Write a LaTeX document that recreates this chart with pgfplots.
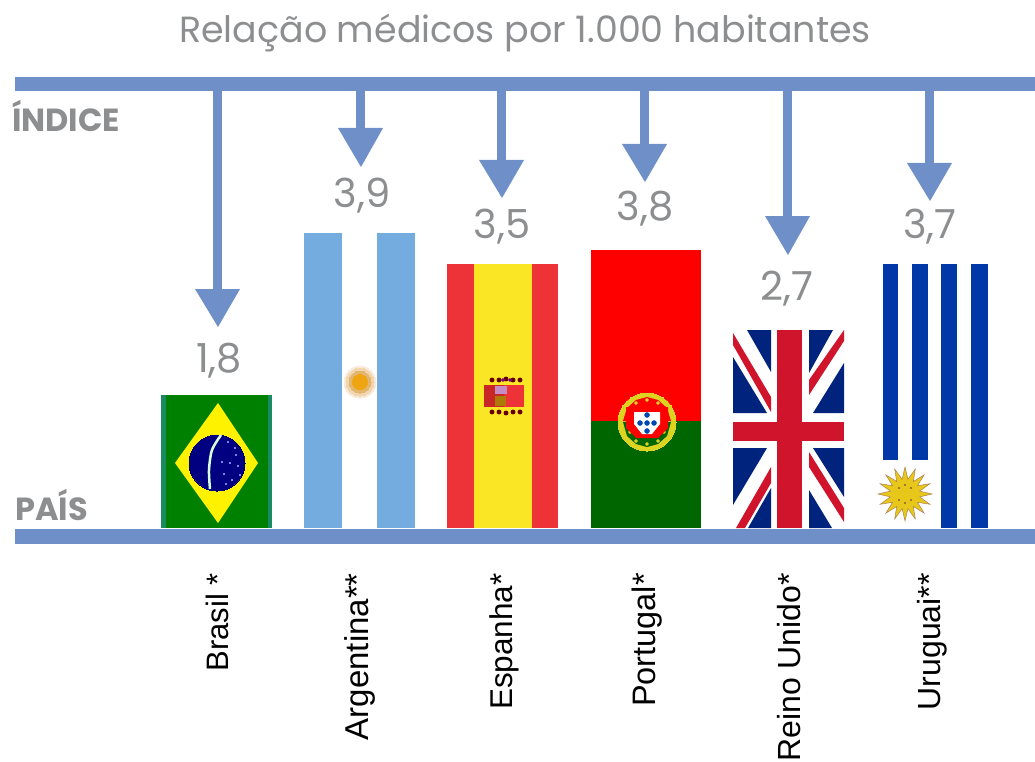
\documentclass[border=0pt]{standalone}
\usepackage{pgfplots}
\pgfplotsset{compat=1.18}
\usepackage{fontspec}
\setmainfont{Liberation Sans}
\newfontfamily\gth{Poppins}
\definecolor{rule}{HTML}{6F8FC9}
\definecolor{txt}{HTML}{8C8E90}
\definecolor{br}{HTML}{008000}
\definecolor{brt}{HTML}{1A8A62}
\definecolor{arb}{HTML}{74ACDF}
\definecolor{esr}{HTML}{EE3338}
\definecolor{esy}{HTML}{FAE625}
\definecolor{ptg}{HTML}{006600}
\definecolor{ukn}{HTML}{00247D}
\definecolor{ukr}{HTML}{CF142B}
\definecolor{uyb}{HTML}{0038A8}
\definecolor{suna}{HTML}{F8EBDB}
\definecolor{sunb}{HTML}{F0D5AE}
\definecolor{sunc}{HTML}{E3B670}
\definecolor{sund}{HTML}{EFA512}
\newcommand\rect[5]{\addplot[fill=#1,draw=none] coordinates {(#2,#3)(#4,#3)(#4,#5)(#2,#5)} -- cycle;}
\newcommand\poly[2]{\addplot[fill=#1,draw=none] coordinates {#2} -- cycle;}
\newcommand\disc[4]{\addplot[only marks,color=#1,mark=*,mark size=#4pt,mark options={fill=#1,draw=#1,line width=0pt}] coordinates {(#2,#3)};}
% arrow: x centre, head top, tip
\newcommand\arw[3]{%
  \rect{rule}{\the\numexpr#1-5\relax}{91}{\the\numexpr#1+4\relax}{#2}
  \poly{rule}{(\the\numexpr#1-23\relax,#2)(\the\numexpr#1+22\relax,#2)(#1,#3)}}
\newcommand\val[3]{\node[text=txt,font=\gth\fontsize{40}{40}\selectfont,anchor=center] at (axis cs:#1,#2) {#3};}
\newcommand\cat[4]{\node[text=black,font=\fontsize{#4}{32}\selectfont,rotate=90,anchor=base east,inner sep=0pt] at (axis cs:#1,#2) {#3};}
\begin{document}
\begin{tikzpicture}
\useasboundingbox (0,0) rectangle (1035pt,762pt);
\begin{axis}[at={(0,0)},anchor=south west,scale only axis,width=1035pt,height=762pt,
  xmin=0,xmax=1035,ymin=0,ymax=762,y dir=reverse,hide axis,clip=false,clip mode=individual]
% Brasil
\rect{brt}{161}{395}{272}{528}
\rect{br}{166}{395}{268}{528}
\poly{yellow}{(218,403)(258,463)(218,523)(175,463)}
\disc{blue!50!black}{217}{463}{28}
\addplot[color=white!85!green,line width=2.5pt,smooth] coordinates {(221,435)(212,450)(209,470)(210,489)};
\addplot[only marks,color=white!60!blue,mark=*,mark size=0.9pt,mark options={fill=white!60!blue,draw=none}] coordinates {(228,442)(235,448)(222,462)(230,463)(238,466)(224,474)(232,480)(240,475)(226,484)(236,455)};
% Argentina
\rect{arb}{304}{233}{342}{528}
\rect{arb}{377}{233}{415}{528}
\disc{suna}{360}{382}{16}
\disc{sunb}{360}{382}{14}
\disc{sunc}{360}{382}{11}
\disc{sund}{360}{382}{7.5}
% Espanha
\rect{esr}{447}{264}{474}{528}
\rect{esr}{532}{264}{558}{528}
\rect{esy}{474}{264}{532}{528}
\rect{red!75!black!85!white}{484}{385}{524}{407}
\rect{esr}{504}{385}{524}{407}
\rect{violet!45!white}{495}{386}{507}{394}
\rect{olive!70!red}{495}{396}{506}{406}
\addplot[only marks,color=black!60!red,mark=*,mark size=2.2pt,mark options={fill=black!60!red,draw=none}] coordinates {(492,380)(499,380)(506,379)(513,380)(520,380)(492,412)(499,412)(506,413)(513,412)(520,412)};
\addplot[only marks,color=violet,mark=*,mark size=1.6pt,mark options={fill=violet,draw=none}] coordinates {(503,380)(510,380)};
% Portugal
\rect{red}{591}{250}{701}{421}
\rect{ptg}{591}{421}{701}{528}
\disc{yellow!85!black}{647}{422}{29}
\addplot[fill=red,draw=none] coordinates {(623,421)(671,421)(667,408)(658,400)(647,397)(636,400)(627,408)} -- cycle;
\addplot[fill=ptg,draw=none] coordinates {(623,422)(671,422)(667,436)(658,444)(647,447)(636,444)(627,436)} -- cycle;
\addplot[only marks,color=yellow!85!black,mark=*,mark size=1.6pt,mark options={fill=yellow!85!black,draw=none}] coordinates {(636,403)(647,400)(658,403)(630,411)(664,411)(630,432)(664,432)(636,441)(647,444)(658,441)};
\poly{red}{(626,407)(668,407)(668,428)(658,438)(636,438)(626,428)}
\poly{white}{(634,412)(660,412)(660,424)(652,434)(642,434)(634,424)}
\addplot[only marks,color=blue!60!cyan!70!black,mark=*,mark size=2.5pt,mark options={fill=blue!60!cyan!70!black,draw=none}] coordinates {(647,415)(640,423)(647,423)(654,423)(647,431)};
% Reino Unido
\rect{white}{733}{330}{844}{528}
\poly{ukn}{(747,330)(771,330)(771,372)}
\poly{ukn}{(733,357)(733,413)(767,413)}
\poly{ukn}{(809,330)(833,330)(809,373)}
\poly{ukn}{(844,363)(844,413)(813,413)}
\poly{ukn}{(733,448)(767,448)(733,505)}
\poly{ukn}{(771,488)(771,528)(748,528)}
\poly{ukn}{(809,490)(809,528)(832,528)}
\poly{ukn}{(813,448)(844,448)(844,497)}
\poly{ukr}{(733,333)(771,397)(771,412)(733,345)}
\poly{ukr}{(844,330)(844,341)(809,395)(809,380)}
\poly{ukr}{(771,467)(771,483)(745,528)(736,528)}
\poly{ukr}{(809,452)(809,467)(844,522)(844,508)}
\rect{ukr}{777}{330}{802}{528}
\rect{ukr}{733}{422}{844}{441}
% Uruguai
\rect{uyb}{883}{264}{898}{460}
\rect{uyb}{912}{264}{928}{460}
\rect{uyb}{941}{264}{957}{528}
\rect{uyb}{971}{264}{988}{528}
\addplot[fill=yellow!75!orange!90!black,draw=brown!70!gray,line width=0.5pt] coordinates {
(932,494)(919.7,496.9)(929.9,504.3)(917.5,502.3)(924.1,513.1)(913.3,506.5)(915.3,518.9)(907.9,508.7)(905,521)(902.1,508.7)(894.7,518.9)(896.7,506.5)(885.9,513.1)(892.5,502.3)(880.1,504.3)(890.3,496.9)(878,494)(890.3,491.1)(880.1,483.7)(892.5,485.7)(885.9,474.9)(896.7,481.5)(894.7,469.1)(902.1,479.3)(905,467)(907.9,479.3)(915.3,469.1)(913.3,481.5)(924.1,474.9)(917.5,485.7)(929.9,483.7)(919.7,491.1)} -- cycle;
\addplot[only marks,color=brown!80!black,mark=*,mark size=0.9pt,mark options={fill=brown!80!black,draw=none}] coordinates {(899,488)(911,488)(899,500)(911,500)(905,503)(905,485)};
% rules
\rect{rule}{15}{77}{1035}{91}
\rect{rule}{15}{529}{1035}{544}
% arrows
\arw{218}{289}{327}
\arw{361}{128}{167}
\arw{502}{160}{198}
\arw{645}{144}{182}
\arw{788}{216}{255}
\arw{930}{163}{201}
% values
\val{219}{361}{1,8}
\val{362}{196}{3,9}
\val{502}{227}{3,5}
\val{645}{209}{3,8}
\val{787}{289}{2,7}
\val{930}{227}{3,7}
% categories
\cat{228}{573}{Brasil *}{31}
\cat{368}{573}{Argentina**}{33}
\cat{512}{573}{Espanha*}{31.5}
\cat{655}{573}{Portugal*}{32.5}
\cat{800}{573}{Reino Unido*}{32}
\cat{940}{573}{Uruguai**}{32}
% text
\node[text=txt,font=\gth\fontsize{36.4}{36}\selectfont,anchor=base,inner sep=0pt] at (axis cs:525,43) {Relação médicos por 1.000 habitantes};
\node[text=txt,font=\gth\bfseries\fontsize{32}{32}\selectfont,anchor=base west,inner sep=0pt] at (axis cs:12,132) {ÍNDICE};
\node[text=txt,font=\gth\bfseries\fontsize{32}{32}\selectfont,anchor=base west,inner sep=0pt] at (axis cs:15,520) {PAÍS};
\end{axis}
\end{tikzpicture}
\end{document}
